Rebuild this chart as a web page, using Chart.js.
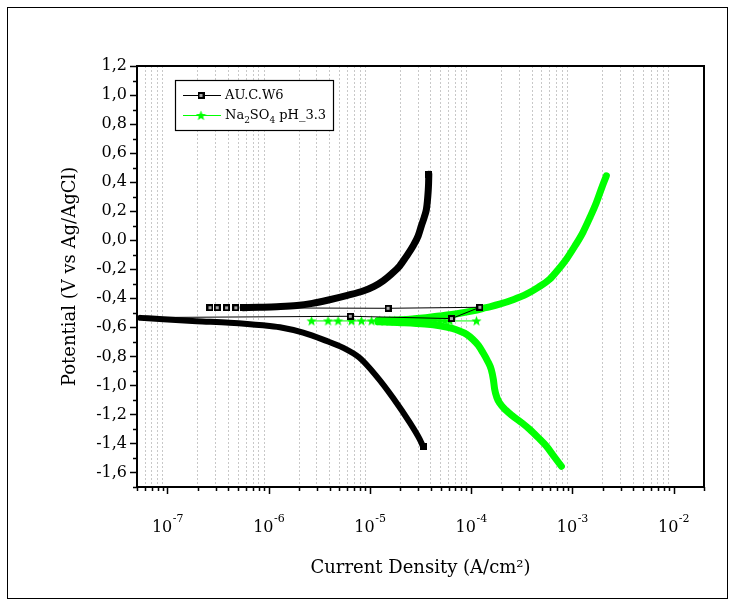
<!DOCTYPE html>
<html><head><meta charset="utf-8">
<script src="https://cdn.jsdelivr.net/npm/chart.js@4/dist/chart.umd.min.js"></script>
<style>html,body{margin:0;padding:0;background:#fff}</style>
</head><body>
<canvas id="c" width="735" height="607"></canvas>
<script>
// ---------- data ----------
const seriesNames = ['AU.C.W6', 'Na2SO4 pH_3.3'];
const xDecades = [1e-7, 1e-6, 1e-5, 1e-4, 1e-3, 1e-2];
const xTickBase = '10';
const xTickExponents = ['-7', '-6', '-5', '-4', '-3', '-2'];
const yTickValues = [-1.6, -1.4, -1.2, -1.0, -0.8, -0.6, -0.4, -0.2, 0.0, 0.2, 0.4, 0.6, 0.8, 1.0, 1.2];
const yTickLabels = ['-1,6', '-1,4', '-1,2', '-1,0', '-0,8', '-0,6', '-0,4', '-0,2', '0,0', '0,2', '0,4', '0,6', '0,8', '1,0', '1,2'];

// AU.C.W6 (black)
const blackCathodic = [
  [5.4e-8, -0.535], [9.1e-8, -0.545], [1.94e-7, -0.558], [4.1e-7, -0.568], [8.8e-7, -0.586],
  [1.29e-6, -0.600], [2.19e-6, -0.637], [3.6e-6, -0.690], [5.4e-6, -0.740], [7.9e-6, -0.810],
  [1.16e-5, -0.936], [1.69e-5, -1.085], [2.48e-5, -1.257], [3.11e-5, -1.372], [3.35e-5, -1.420]
];
const blackAnodic = [
  [5.6e-7, -0.465], [8.0e-7, -0.462], [1.2e-6, -0.458], [1.9e-6, -0.450], [2.7e-6, -0.435],
  [4.0e-6, -0.410], [6.0e-6, -0.380], [8.57e-6, -0.350], [1.1e-5, -0.318], [1.35e-5, -0.280],
  [1.65e-5, -0.230], [1.97e-5, -0.177], [2.3e-5, -0.110], [2.67e-5, -0.040], [3.0e-5, 0.030],
  [3.23e-5, 0.100], [3.45e-5, 0.160], [3.62e-5, 0.214], [3.7e-5, 0.270], [3.76e-5, 0.330],
  [3.8e-5, 0.390], [3.82e-5, 0.455]
];
const blackNoise = [
  [5.4e-8, -0.533], [6.4e-6, -0.524], [6.4e-5, -0.540], [1.22e-4, -0.462], [1.51e-5, -0.469], [5.6e-7, -0.466]
];
const blackNoiseMarks = [0, 1, 1, 1, 1, 0];
const blackStartSquares = [
  [2.63e-7, -0.465], [3.1e-7, -0.465], [3.84e-7, -0.466], [4.74e-7, -0.466], [5.6e-7, -0.466]
];
const blackEndSquares = [[3.82e-5, 0.455], [3.35e-5, -1.420]];

// Na2SO4 pH_3.3 (green)
const greenCathodic = [
  [1.2e-5, -0.562], [2.0e-5, -0.568], [3.5e-5, -0.578], [4.9e-5, -0.590], [6.5e-5, -0.608],
  [7.7e-5, -0.626], [9.0e-5, -0.648], [1.04e-4, -0.683], [1.18e-4, -0.725], [1.31e-4, -0.775],
  [1.45e-4, -0.830], [1.58e-4, -0.890], [1.66e-4, -0.960], [1.71e-4, -1.028], [1.8e-4, -1.085],
  [1.91e-4, -1.120], [2.2e-4, -1.170], [2.59e-4, -1.212], [3.2e-4, -1.260], [3.79e-4, -1.303],
  [4.6e-4, -1.360], [5.53e-4, -1.418], [6.6e-4, -1.490], [7.8e-4, -1.557]
];
const greenAnodic = [
  [1.2e-5, -0.553], [2.5e-5, -0.545], [4.9e-5, -0.522], [7.5e-5, -0.505], [1.04e-4, -0.487],
  [1.4e-4, -0.465], [1.91e-4, -0.441], [2.6e-4, -0.410], [3.52e-4, -0.372], [4.6e-4, -0.325],
  [5.97e-4, -0.269], [7.3e-4, -0.200], [8.73e-4, -0.131], [1.06e-3, -0.040], [1.27e-3, 0.053],
  [1.5e-3, 0.160], [1.73e-3, 0.260], [1.95e-3, 0.360], [2.17e-3, 0.444]
];
const greenStars = [
  [2.65e-6, -0.556], [3.86e-6, -0.556], [4.85e-6, -0.556], [6.58e-6, -0.556], [8.26e-6, -0.556],
  [1.04e-5, -0.556], [1.25e-5, -0.556], [1.40e-5, -0.556], [1.57e-5, -0.556], [1.76e-5, -0.556],
  [1.97e-5, -0.556], [2.21e-5, -0.556], [2.48e-5, -0.556], [2.77e-5, -0.556], [3.11e-5, -0.556],
  [3.48e-5, -0.556], [3.90e-5, -0.556], [4.37e-5, -0.556], [4.90e-5, -0.556], [5.48e-5, -0.556],
  [6.15e-5, -0.556], [1.13e-4, -0.556]
];

// ---------- rendering ----------
const FONT = "'DejaVu Serif', serif";
const BLACK = '#000000';
const GREEN = '#00ff00';
const pts = a => a.map(p => ({x: p[0], y: p[1]}));

function makeSquare() {
  const c = document.createElement('canvas'); c.width = 7; c.height = 7;
  const g = c.getContext('2d');
  g.fillStyle = '#000'; g.fillRect(0, 0, 7, 7);
  g.fillStyle = '#aaa'; g.fillRect(2, 2, 3, 3);
  return c;
}
function makeStar() {
  const c = document.createElement('canvas'); c.width = 11; c.height = 11;
  const g = c.getContext('2d');
  g.fillStyle = GREEN; g.beginPath();
  for (let i = 0; i < 10; i++) {
    const r = i % 2 === 0 ? 5.4 : 2.3;
    const a = -Math.PI / 2 + i * Math.PI / 5;
    const px = 5.5 + r * Math.cos(a), py = 5.8 + r * Math.sin(a);
    i === 0 ? g.moveTo(px, py) : g.lineTo(px, py);
  }
  g.closePath(); g.fill();
  return c;
}
const squareImg = makeSquare();
const starImg = makeStar();

const isDecade = v => {
  const l = Math.log10(v);
  return Math.abs(l - Math.round(l)) < 1e-6;
};

const frameAndLegend = {
  id: 'frameAndLegend',
  afterDraw(chart) {
    const ctx = chart.ctx;
    const a = chart.chartArea;
    const xs = chart.scales.x, ys = chart.scales.y;
    ctx.save();
    // outer frame
    ctx.strokeStyle = '#000'; ctx.lineWidth = 1;
    ctx.strokeRect(7.5, 7.5, 720, 591);
    // tick marks
    ctx.lineWidth = 1.5;
    ctx.beginPath();
    xs.ticks.forEach(t => {
      const px = Math.round(xs.getPixelForValue(t.value)) + 0.5;
      const len = isDecade(t.value) ? 7 : 4;
      ctx.moveTo(px, a.bottom); ctx.lineTo(px, a.bottom + len);
    });
    for (let k = -17; k <= 12; k++) {
      const py = Math.round(ys.getPixelForValue(k / 10)) + 0.5;
      const len = (k % 2 === 0) ? 7 : 4;
      ctx.moveTo(a.left, py); ctx.lineTo(a.left - len, py);
    }
    ctx.stroke();
    // plot frame
    ctx.lineWidth = 2;
    ctx.strokeRect(a.left, a.top, a.right - a.left, a.bottom - a.top);

    // x tick labels: 10 with superscript exponent
    ctx.fillStyle = '#000';
    ctx.textBaseline = 'middle';
    xDecades.forEach((d, i) => {
      const px = xs.getPixelForValue(d);
      ctx.font = '16px ' + FONT;
      const wb = ctx.measureText(xTickBase).width;
      ctx.font = '11px ' + FONT;
      const we = ctx.measureText(xTickExponents[i]).width;
      const x0 = px - (wb + we) / 2;
      ctx.textAlign = 'left';
      ctx.font = '16px ' + FONT;
      ctx.fillText(xTickBase, x0, a.bottom + 41);
      ctx.font = '11px ' + FONT;
      ctx.fillText(xTickExponents[i], x0 + wb + 0.5, a.bottom + 32);
    });

    // legend
    const lx = 175.5, ly = 80.5, lw = 158, lh = 50;
    ctx.fillStyle = '#fff';
    ctx.fillRect(lx, ly, lw, lh);
    ctx.lineWidth = 1.2; ctx.strokeStyle = '#000';
    ctx.strokeRect(lx, ly, lw, lh);
    const rows = [{y: 95, color: BLACK, img: squareImg}, {y: 115, color: GREEN, img: starImg}];
    rows.forEach(r => {
      ctx.strokeStyle = r.color; ctx.lineWidth = 1;
      ctx.beginPath(); ctx.moveTo(183, r.y + 0.5); ctx.lineTo(221, r.y + 0.5); ctx.stroke();
      ctx.drawImage(r.img, 201 - r.img.width / 2, r.y + 0.5 - r.img.height / 2);
    });
    ctx.fillStyle = '#000';
    ctx.textBaseline = 'middle'; ctx.textAlign = 'left';
    ctx.font = '13px ' + FONT;
    ctx.fillText(seriesNames[0], 225, 96);
    let x = 225;
    const parts = [['Na', 0], ['2', 1], ['SO', 0], ['4', 1], [' pH_3.3', 0]];
    parts.forEach(p => {
      if (p[1]) { ctx.font = '9px ' + FONT; ctx.fillText(p[0], x, 121); }
      else { ctx.font = '13px ' + FONT; ctx.fillText(p[0], x, 116); }
      x += ctx.measureText(p[0]).width;
    });
    ctx.restore();
  }
};

const thick = (data, color, w) => ({
  data: pts(data), showLine: true, borderColor: color, backgroundColor: color,
  borderWidth: w, pointRadius: 0, cubicInterpolationMode: 'monotone',
  borderJoinStyle: 'round', borderCapStyle: 'round'
});

new Chart(document.getElementById('c'), {
  type: 'scatter',
  data: {
    datasets: [
      {data: pts(blackNoise), showLine: true, borderColor: BLACK, borderWidth: 1,
       pointStyle: squareImg, pointRadius: blackNoiseMarks, tension: 0},
      {data: pts(greenStars), showLine: true, borderColor: GREEN, borderWidth: 1,
       pointStyle: starImg, pointRadius: 3, tension: 0},
      thick(blackCathodic, BLACK, 6),
      thick(blackAnodic, BLACK, 7),
      {data: pts(blackStartSquares), showLine: false, pointStyle: squareImg, pointRadius: 3},
      {data: pts(blackEndSquares), showLine: false, pointStyle: squareImg, pointRadius: 3},
      thick(greenCathodic, GREEN, 7),
      thick(greenAnodic, GREEN, 7)
    ]
  },
  options: {
    responsive: false, animation: false, devicePixelRatio: 1,
    layout: {padding: {left: 56, top: 66, right: 31, bottom: 24}},
    plugins: {legend: {display: false}, tooltip: {enabled: false}},
    scales: {
      x: {
        type: 'logarithmic', min: 5e-8, max: 2e-2, position: 'bottom',
        afterBuildTicks(scale) {
          const t = [];
          for (let e = -8; e <= -2; e++) for (let m = 1; m <= 9; m++) {
            const v = Number((m * Math.pow(10, e)).toPrecision(10));
            if (v >= 5e-8 && v <= 2e-2) t.push({value: v});
          }
          scale.ticks = t;
        },
        afterFit(scale) { scale.height = 96; },
        grid: {
          color: c => (c.tick && !isDecade(c.tick.value)) ? '#c8c8c8' : 'rgba(0,0,0,0)',
          lineWidth: 1, drawTicks: false
        },
        border: {display: false, dash: [2, 2]},
        ticks: {display: false, autoSkip: false},
        title: {display: true, text: 'Current Density (A/cm²)', color: '#000',
                font: {family: FONT, size: 18}}
      },
      y: {
        type: 'linear', min: -1.7, max: 1.2,
        afterBuildTicks(scale) { scale.ticks = yTickValues.map(v => ({value: v})); },
        afterFit(scale) { scale.width = 81; },
        grid: {display: false, drawTicks: false},
        border: {display: false},
        ticks: {
          padding: 10, color: '#000', font: {family: FONT, size: 16},
          callback(v) {
            const i = yTickValues.findIndex(d => Math.abs(d - v) < 1e-6);
            return i >= 0 ? yTickLabels[i] : '';
          }
        },
        title: {display: true, text: 'Potential (V vs Ag/AgCl)', color: '#000',
                font: {family: FONT, size: 18}}
      }
    }
  },
  plugins: [frameAndLegend]
});
</script>
</body></html>
